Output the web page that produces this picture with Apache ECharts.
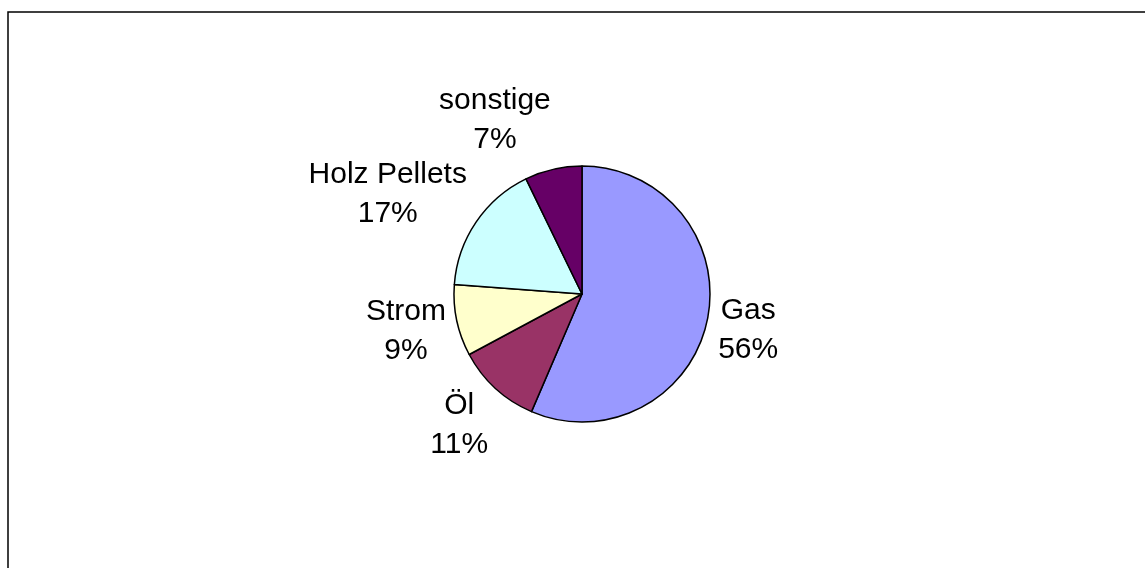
<!DOCTYPE html>
<html>
<head>
<meta charset="utf-8">
<style>
  html, body { margin: 0; padding: 0; background: #fff; }
  #container { width: 1145px; height: 568px; }
</style>
<script src="https://cdn.jsdelivr.net/npm/echarts@6/dist/echarts.min.js"></script>
</head>
<body>
<div id="container"></div>
<script>
var categories = ['Gas', 'Öl', 'Strom', 'Holz Pellets', 'sonstige'];
var shares = [56.4, 10.7, 9.0, 16.6, 7.2];
var colors = ['#9999FF', '#993366', '#FFFFCC', '#CCFFFF', '#660066'];

var dom = document.getElementById('container');
var myChart = echarts.init(dom, null, { renderer: 'canvas' });

var cx = 582, cy = 294, radius = 128, gap = 11;
var total = shares.reduce(function (a, b) { return a + b; }, 0);

// labels sit outside the slice: pushed fully to the left/right side,
// vertically by the radial direction
function placeLabel(params) {
  var i = params.dataIndex;
  var before = 0;
  for (var k = 0; k < i; k++) before += shares[k];
  var mid = (before + shares[i] / 2) / total * Math.PI * 2;
  var ux = Math.sin(mid), uy = -Math.cos(mid);
  var w = params.labelRect.width, h = params.labelRect.height;
  var d = radius + gap;
  return {
    x: cx + ux * d + (ux < 0 ? -1 : 1) * w / 2,
    y: cy + uy * d + uy * h / 2,
    align: 'center',
    verticalAlign: 'middle'
  };
}

var option = {
  backgroundColor: '#ffffff',
  animation: false,
  graphic: [{
    type: 'rect',
    shape: { x: 8, y: 12, width: 1300, height: 700 },
    style: { fill: 'none', stroke: '#000', lineWidth: 1.5 },
    silent: true
  }],
  series: [{
    type: 'pie',
    center: [cx, cy],
    radius: radius,
    startAngle: 90,
    clockwise: true,
    data: categories.map(function (c, i) {
      return { name: c, value: shares[i], itemStyle: { color: colors[i] } };
    }),
    itemStyle: { borderColor: '#000', borderWidth: 1.5 },
    label: {
      show: true,
      position: 'outside',
      fontFamily: 'Liberation Sans, Arial, sans-serif',
      fontSize: 30,
      lineHeight: 39,
      color: '#000',
      align: 'center',
      formatter: function (p) {
        return p.name + '\n' + Math.round(p.value / total * 100) + '%';
      }
    },
    labelLine: { show: false },
    labelLayout: placeLabel,
    emphasis: { disabled: true }
  }]
};

myChart.setOption(option);
window.addEventListener('resize', myChart.resize);
</script>
</body>
</html>
